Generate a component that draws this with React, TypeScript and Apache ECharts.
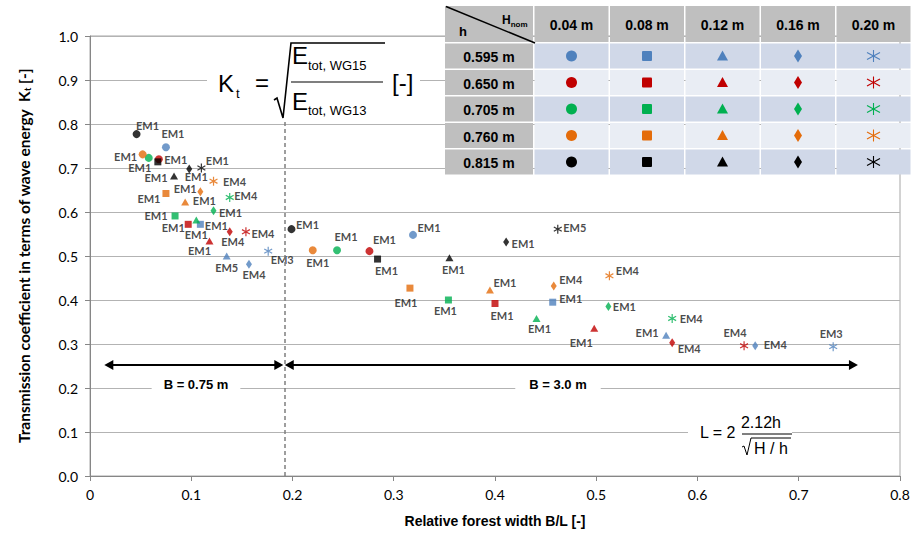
import React, { useEffect, useRef } from 'react';
import * as echarts from 'echarts';

// Water depths h (rows of the key table) and nominal wave heights (columns)
const waterDepths = ['0.595 m', '0.650 m', '0.705 m', '0.760 m', '0.815 m'];
const waveHeights = ['0.04 m', '0.08 m', '0.12 m', '0.16 m', '0.20 m'];
const depthColors = ['#4f81bd', '#c00000', '#00b050', '#e46c0a', '#000000'];

// [B/L, Kt] per wave height (0.04, 0.08, 0.12, 0.16, 0.20 m); B075 = 0.75 m forest, B300 = 3.0 m forest
const h0595_B075 = [[0.075, 0.747], [0.109, 0.572], [0.135, 0.5], [0.157, 0.481], [0.176, 0.511]];
const h0595_B300 = [[0.319, 0.548], [0.457, 0.395], [0.569, 0.32], [0.657, 0.296], [0.734, 0.294]];
const h0650_B075 = [[0.068, 0.72], [0.097, 0.572], [0.118, 0.534], [0.138, 0.555], [0.154, 0.555]];
const h0650_B300 = [[0.276, 0.511], [0.4, 0.392], [0.498, 0.336], [0.575, 0.303], [0.646, 0.296]];
const h0705_B075 = [[0.058, 0.723], [0.084, 0.591], [0.105, 0.582], [0.122, 0.603], [0.138, 0.633]];
const h0705_B300 = [[0.244, 0.513], [0.354, 0.4], [0.441, 0.358], [0.512, 0.385], [0.575, 0.358]];
const h0760_B075 = [[0.052, 0.731], [0.075, 0.642], [0.094, 0.623], [0.109, 0.646], [0.122, 0.67]];
const h0760_B300 = [[0.22, 0.513], [0.316, 0.427], [0.395, 0.423], [0.458, 0.432], [0.513, 0.455]];
const h0815_B075 = [[0.046, 0.777], [0.067, 0.714], [0.083, 0.682], [0.098, 0.698], [0.11, 0.7]];
const h0815_B300 = [[0.199, 0.561], [0.284, 0.493], [0.355, 0.496], [0.411, 0.532], [0.462, 0.561]];

// Best-fitting empirical model for each point
const em_h0595_B075 = ['EM1', 'EM1', 'EM5', 'EM4', 'EM3'];
const em_h0595_B300 = ['EM1', 'EM1', 'EM1', 'EM4', 'EM3'];
const em_h0650_B075 = ['', 'EM1', 'EM1', 'EM4', 'EM4'];
const em_h0650_B300 = ['EM1', 'EM1', 'EM1', 'EM4', 'EM4'];
const em_h0705_B075 = ['EM1', 'EM1', 'EM1', 'EM1', 'EM4'];
const em_h0705_B300 = ['EM1', 'EM1', 'EM1', 'EM1', 'EM4'];
const em_h0760_B075 = ['EM1', 'EM1', 'EM1', 'EM1', 'EM4'];
const em_h0760_B300 = ['EM1', 'EM1', 'EM1', 'EM4', 'EM4'];
const em_h0815_B075 = ['EM1', 'EM1', 'EM1', 'EM1', 'EM1'];
const em_h0815_B300 = ['EM1', 'EM1', 'EM1', 'EM1', 'EM5'];

// Label placement (pixel offset of the model tag from its marker)
const tag_h0595_B075 = [[7, -14], [16, 1], [0, 11], [5, 10], [14, 8]];
const tag_h0595_B300 = [[16, -7], [18, -4], [-19, -3], [20, -1], [-2, -13]];
const tag_h0650_B075 = [[0, 0], [-15, 3], [-10, 9], [3, 10], [17, 2]];
const tag_h0650_B300 = [[15, -12], [7, 12], [-13, 14], [17, 6], [-9, -13]];
const tag_h0705_B075 = [[-9, 10], [-19, 0], [0, 15], [17, 2], [16, -2]];
const tag_h0705_B300 = [[9, -14], [-3, 10], [3, 10], [16, 0], [19, 0]];
const tag_h0760_B075 = [[-17, 2], [-17, 5], [0, -13], [4, 9], [21, 0]];
const tag_h0760_B300 = [[5, 12], [-4, 14], [15, -7], [17, -6], [18, -5]];
const tag_h0815_B075 = [[11, -9], [18, -2], [-18, 2], [7, 8], [16, -8]];
const tag_h0815_B300 = [[16, -5], [9, 11], [4, 12], [17, 2], [17, -2]];

const pointsByDepth = [
  [h0595_B075, h0595_B300], [h0650_B075, h0650_B300], [h0705_B075, h0705_B300],
  [h0760_B075, h0760_B300], [h0815_B075, h0815_B300],
];
const modelsByDepth = [
  [em_h0595_B075, em_h0595_B300], [em_h0650_B075, em_h0650_B300], [em_h0705_B075, em_h0705_B300],
  [em_h0760_B075, em_h0760_B300], [em_h0815_B075, em_h0815_B300],
];
const tagsByDepth = [
  [tag_h0595_B075, tag_h0595_B300], [tag_h0650_B075, tag_h0650_B300], [tag_h0705_B075, tag_h0705_B300],
  [tag_h0760_B075, tag_h0760_B300], [tag_h0815_B075, tag_h0815_B300],
];

const asteriskPath = 'path://M5,0L5,10M0.6,2.6L9.4,7.4M0.6,7.4L9.4,2.6';
const markerSymbols = ['circle', 'rect', 'triangle', 'diamond', asteriskPath];
const markerSizes: any[] = [8, 7, [8, 7], [6, 9], 9];

const forestSeparator = 0.192;
const arrowLevel = 0.2523;

const ARIAL = '"Liberation Sans", Arial, sans-serif';
const CAL = 'Lato, "Liberation Sans", sans-serif';

function buildSeries() {
  return waterDepths.map((depth, di) => {
    const color = depthColors[di];
    const data: any[] = [];
    [0, 1].forEach((bi) => {
      const pts = pointsByDepth[di][bi];
      const models = modelsByDepth[di][bi];
      const tags = tagsByDepth[di][bi];
      pts.forEach((p, hi) => {
        const isStar = hi === 4;
        data.push({
          value: p,
          symbol: markerSymbols[hi],
          symbolSize: markerSizes[hi],
          symbolKeepAspect: true,
          itemStyle: isStar
            ? { color: 'rgba(0,0,0,0)', borderColor: color, borderWidth: 1.2 }
            : { color, borderWidth: 0 },
          label: {
            show: models[hi] !== '',
            formatter: models[hi],
            position: 'inside',
            offset: tags[hi],
          },
        });
      });
    });
    return {
      name: 'h = ' + depth,
      type: 'scatter',
      data,
      z: 3,
      label: {
        color: '#1a1a1a',
        fontFamily: CAL,
        fontWeight: 'bold',
        fontSize: 11,
      },
    };
  });
}

// Key table geometry
const tblLeft = 445;
const firstColW = 88;
const colW = 74;
const gap = 1.5;
const tblTop = 6;
const headH = 36;
const rowH = 25;
const cellX = (c: number) => (c === 0 ? tblLeft : tblLeft + firstColW + gap + (c - 1) * (colW + gap));
const cellW = (c: number) => (c === 0 ? firstColW : colW);
const rowY = (r: number) => (r < 0 ? tblTop : tblTop + headH + gap + r * (rowH + gap));
const rowHeight = (r: number) => (r < 0 ? headH : rowH);

function tableMarker(hi: number, cx: number, cy: number, color: string): any[] {
  if (hi === 0) return [{ type: 'circle', shape: { cx, cy, r: 5.5 }, style: { fill: color } }];
  if (hi === 1) return [{ type: 'rect', shape: { x: cx - 5, y: cy - 5, width: 10, height: 10, r: 1 }, style: { fill: color } }];
  if (hi === 2)
    return [{ type: 'polygon', shape: { points: [[cx, cy - 5.5], [cx + 5.5, cy + 4.5], [cx - 5.5, cy + 4.5]] }, style: { fill: color } }];
  if (hi === 3)
    return [{ type: 'polygon', shape: { points: [[cx, cy - 6.5], [cx + 4, cy], [cx, cy + 6.5], [cx - 4, cy]] }, style: { fill: color } }];
  const ls = { stroke: color, lineWidth: 1.1 };
  return [
    { type: 'line', shape: { x1: cx, y1: cy - 6, x2: cx, y2: cy + 6 }, style: ls },
    { type: 'line', shape: { x1: cx - 6.5, y1: cy - 3.5, x2: cx + 6.5, y2: cy + 3.5 }, style: ls },
    { type: 'line', shape: { x1: cx - 6.5, y1: cy + 3.5, x2: cx + 6.5, y2: cy - 3.5 }, style: ls },
  ];
}

function buildTable(): any[] {
  const els: any[] = [];
  const headFill = '#bfbfbf';
  const bandA = '#d0d8e8';
  const bandB = '#e9edf4';
  for (let r = -1; r < waterDepths.length; r++) {
    for (let c = 0; c <= waveHeights.length; c++) {
      const fill = r < 0 || c === 0 ? headFill : r % 2 === 0 ? bandA : bandB;
      els.push({
        type: 'rect',
        shape: { x: cellX(c), y: rowY(r), width: cellW(c), height: rowHeight(r) },
        style: { fill },
      });
    }
  }
  // header labels
  waveHeights.forEach((w, i) => {
    els.push({
      type: 'text',
      style: {
        text: w, x: cellX(i + 1) + colW / 2, y: rowY(-1) + headH / 2 + 1,
        align: 'center', verticalAlign: 'middle', font: 'bold 14px ' + ARIAL, fill: '#000',
      },
    });
  });
  // corner cell
  els.push({ type: 'line', shape: { x1: tblLeft + 1, y1: tblTop + 0.5, x2: tblLeft + firstColW + 2, y2: tblTop + headH + 1 }, style: { stroke: '#000', lineWidth: 1.5 } });
  els.push({ type: 'text', style: { text: 'h', x: 463, y: 31, align: 'center', verticalAlign: 'middle', font: 'bold 13px ' + ARIAL, fill: '#000' } });
  els.push({
    type: 'text',
    style: {
      text: '{a|H}{b|nom}', x: 502, y: 21, align: 'left', verticalAlign: 'middle',
      rich: {
        a: { font: 'bold 12px ' + ARIAL, fill: '#000', verticalAlign: 'top' },
        b: { font: 'bold 8px ' + ARIAL, fill: '#000', verticalAlign: 'bottom', padding: [6, 0, 0, 0] },
      },
    },
  });
  // row labels and key markers
  waterDepths.forEach((d, r) => {
    const cy = rowY(r) + rowH / 2;
    els.push({
      type: 'text',
      style: { text: d, x: tblLeft + firstColW / 2, y: cy + 1, align: 'center', verticalAlign: 'middle', font: 'bold 14px ' + ARIAL, fill: '#000' },
    });
    waveHeights.forEach((_, hi) => {
      els.push(...tableMarker(hi, cellX(hi + 1) + colW / 2, cy, depthColors[r]));
    });
  });
  return els.map((e) => ({ ...e, z: 10 }));
}

function buildFormulas(): any[] {
  const f24 = '24px ' + ARIAL;
  const sub = '13px ' + ARIAL;
  const els: any[] = [
    // Kt definition
    { type: 'rect', shape: { x: 207, y: 38, width: 213, height: 84 }, style: { fill: '#fff' } },
    { type: 'text', style: { text: 'K', x: 218, y: 83, verticalAlign: 'middle', font: f24, fill: '#000' } },
    { type: 'text', style: { text: 't', x: 236, y: 93, verticalAlign: 'middle', font: sub, fill: '#000' } },
    { type: 'text', style: { text: '=', x: 255, y: 82, verticalAlign: 'middle', font: f24, fill: '#000' } },
    { type: 'polyline', shape: { points: [[274, 100], [277, 98], [283, 118], [291, 43], [385, 43]] }, style: { stroke: '#000', lineWidth: 1.6, fill: null } },
    { type: 'text', style: { text: 'E', x: 292, y: 55, verticalAlign: 'middle', font: f24, fill: '#000' } },
    { type: 'text', style: { text: 'tot, WG15', x: 308, y: 65, verticalAlign: 'middle', font: sub, fill: '#000' } },
    { type: 'line', shape: { x1: 291, y1: 82, x2: 383, y2: 82 }, style: { stroke: '#000', lineWidth: 1.2 } },
    { type: 'text', style: { text: 'E', x: 292, y: 101, verticalAlign: 'middle', font: f24, fill: '#000' } },
    { type: 'text', style: { text: 'tot, WG13', x: 308, y: 110, verticalAlign: 'middle', font: sub, fill: '#000' } },
    { type: 'text', style: { text: '[-]', x: 392, y: 82, verticalAlign: 'middle', font: f24, fill: '#000' } },
    // wave length used for B/L
    { type: 'rect', shape: { x: 688, y: 410, width: 104, height: 50 }, style: { fill: '#fff' } },
    { type: 'text', style: { text: 'L = 2', x: 700, y: 432, verticalAlign: 'middle', font: '16px ' + ARIAL, fill: '#000' } },
    { type: 'text', style: { text: '2.12h', x: 761, y: 422, align: 'center', verticalAlign: 'middle', font: '16px ' + ARIAL, fill: '#000' } },
    { type: 'line', shape: { x1: 742, y1: 434, x2: 792, y2: 434 }, style: { stroke: '#000', lineWidth: 1 } },
    { type: 'polyline', shape: { points: [[742, 447], [744, 446], [747, 455], [751, 438], [791, 438]] }, style: { stroke: '#000', lineWidth: 1, fill: null } },
    { type: 'text', style: { text: 'H / h', x: 771, y: 448, align: 'center', verticalAlign: 'middle', font: '16px ' + ARIAL, fill: '#000' } },
    // forest width tags
    {
      type: 'text',
      style: { text: 'B = 0.75 m', x: 196, y: 384, align: 'center', verticalAlign: 'middle', font: 'bold 13px ' + ARIAL, fill: '#000', backgroundColor: '#fff', padding: [2, 12] },
    },
    {
      type: 'text',
      style: { text: 'B = 3.0 m', x: 558, y: 384, align: 'center', verticalAlign: 'middle', font: 'bold 13px ' + ARIAL, fill: '#000', backgroundColor: '#fff', padding: [2, 14] },
    },
  ];
  return els.map((e) => ({ ...e, z: 1 }));
}

export default function App() {
  const ref = useRef<HTMLDivElement>(null);

  useEffect(() => {
    if (!ref.current) return;
    const chart = echarts.init(ref.current, null, { renderer: 'svg' });
    const arrowEnd = { symbol: 'triangle', symbolSize: [10, 9] };
    chart.setOption({
      animation: false,
      backgroundColor: '#fff',
      grid: { left: 90, right: 13, top: 36, bottom: 59, show: true, borderColor: '#a6a6a6', borderWidth: 1 },
      xAxis: {
        type: 'value',
        min: 0,
        max: 0.8,
        interval: 0.1,
        name: 'Relative forest width B/L [-]',
        nameLocation: 'middle',
        nameGap: 38,
        nameTextStyle: { fontFamily: ARIAL, fontWeight: 'bold', fontSize: 14, color: '#000' },
        axisLine: { show: true, lineStyle: { color: '#868686', width: 1 } },
        axisTick: { show: true, length: 5, lineStyle: { color: '#868686' } },
        axisLabel: {
          margin: 11,
          fontFamily: CAL,
          fontSize: 14,
          color: '#000',
          formatter: (v: number) => (v === 0 ? '0' : String(+v.toFixed(1))),
        },
        splitLine: { show: false },
      },
      yAxis: {
        type: 'value',
        min: 0,
        max: 1,
        interval: 0.1,
        name: 'Transmission coefficient in terms of wave energy  K{s|t} [-]',
        nameLocation: 'middle',
        nameRotate: 90,
        nameGap: 58,
        nameTextStyle: {
          fontFamily: CAL,
          fontWeight: 'bold',
          fontSize: 15.5,
          color: '#000',
          rich: { s: { fontFamily: CAL, fontWeight: 'bold', fontSize: 9, color: '#000', verticalAlign: 'bottom', padding: [7, 0, 0, 0] } },
        },
        axisLine: { show: true, lineStyle: { color: '#868686', width: 1 } },
        axisTick: { show: true, length: 5, lineStyle: { color: '#868686' } },
        axisLabel: {
          margin: 12,
          fontFamily: CAL,
          fontSize: 14,
          color: '#000',
          formatter: (v: number) => v.toFixed(1),
        },
        splitLine: { show: true, lineStyle: { color: '#b3b3b3', width: 1 } },
      },
      series: [
        ...buildSeries(),
        {
          name: 'forest widths',
          type: 'scatter',
          data: [],
          markLine: {
            silent: true,
            symbol: ['none', 'none'],
            label: { show: false },
            z: 4,
            data: [
              [
                { coord: [forestSeparator, 0], lineStyle: { type: [4, 3], color: '#7f7f7f', width: 1.5 } },
                { coord: [forestSeparator, 0.805] },
              ],
              [
                { coord: [0.0186, arrowLevel], ...arrowEnd, lineStyle: { color: '#000', width: 2, type: 'solid' } },
                { coord: [0.1865, arrowLevel], ...arrowEnd },
              ],
              [
                { coord: [0.1968, arrowLevel], ...arrowEnd, lineStyle: { color: '#000', width: 2, type: 'solid' } },
                { coord: [0.754, arrowLevel], ...arrowEnd },
              ],
            ],
          },
        },
      ],
      graphic: [...buildFormulas(), ...buildTable()],
    });
    return () => chart.dispose();
  }, []);

  return (
    <div
      ref={ref}
      style={{ position: 'fixed', left: 0, top: 0, width: 913, height: 535, background: '#fff' }}
    />
  );
}
